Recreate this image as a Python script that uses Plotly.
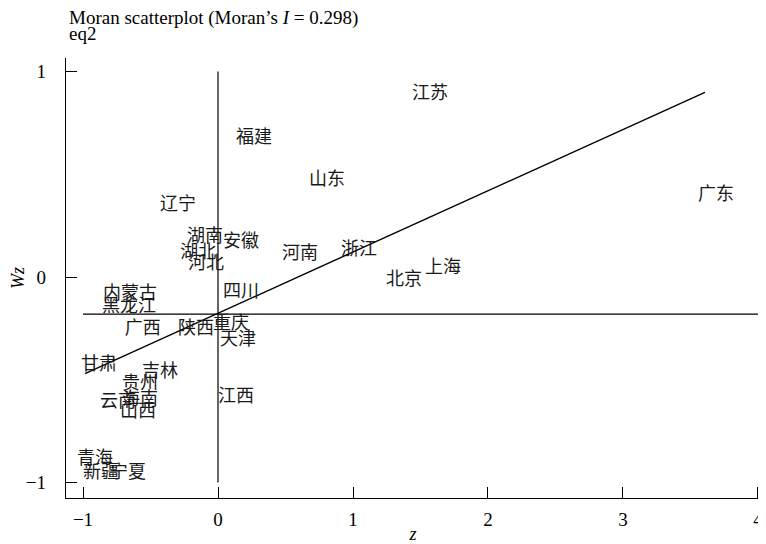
import plotly.graph_objects as go

# Provinces, standardized value z and spatial lag Wz
provinces = ["江苏", "福建", "山东", "广东", "河南", "浙江", "上海", "北京",
             "辽宁", "湖南", "安徽", "湖北", "河北", "四川", "内蒙古", "黑龙江",
             "广西", "陕西", "重庆", "天津", "甘肃", "吉林", "贵州", "江西",
             "云南", "海南", "山西", "青海", "新疆", "宁夏"]
z_vals = [1.437, 0.133, 0.674, 3.556, 0.474, 0.911, 1.533, 1.244,
          -0.430, -0.230, 0.037, -0.280, -0.222, 0.037, -0.852, -0.860,
          -0.690, -0.296, -0.037, 0.015, -1.015, -0.563, -0.711, 0.000,
          -0.874, -0.711, -0.726, -1.044, -1.000, -0.800]
wz_vals = [0.886, 0.676, 0.472, 0.399, 0.112, 0.127, 0.044, -0.015,
           0.350, 0.195, 0.170, 0.117, 0.063, -0.073, -0.083, -0.146,
           -0.253, -0.253, -0.229, -0.307, -0.428, -0.462, -0.521, -0.584,
           -0.608, -0.600, -0.657, -0.886, -0.954, -0.954]

moran_I = 0.298
fit_intercept = -0.176
fit_z_range = [-0.985, 3.607]
mean_wz = -0.18
ref_z_range = [-1, 4]
ref_wz_range = [-1, 1]

x_ticks = [-1, 0, 1, 2, 3, 4]
x_ticktext = ["−1", "0", "1", "2", "3", "4"]
y_ticks = [-1, 0, 1]
y_ticktext = ["−1", "0", "1"]

title_line1 = "Moran scatterplot (Moran’s <i>I</i> = 0.298)"
title_line2 = "eq2"

serif = "Liberation Serif"
cjk = "Noto Sans CJK SC"

# page has an 8px body margin; figure is sized to fill the rest of the window
W, H = 758, 536
ML, MR, MT, MB = 58, 6, 50, 46
PW, PH = W - ML - MR, H - MT - MB

fig = go.Figure()

# reference lines
fig.add_trace(go.Scatter(x=ref_z_range, y=[mean_wz, mean_wz], mode="lines",
                         line=dict(color="black", width=1.2), hoverinfo="skip",
                         showlegend=False))
fig.add_trace(go.Scatter(x=[0, 0], y=ref_wz_range, mode="lines",
                         line=dict(color="black", width=1.2), hoverinfo="skip",
                         showlegend=False))
# fitted line
fit_wz = [fit_intercept + moran_I * v for v in fit_z_range]
fig.add_trace(go.Scatter(x=fit_z_range, y=fit_wz, mode="lines",
                         line=dict(color="black", width=1.4), hoverinfo="skip",
                         showlegend=False))
# labels
fig.add_trace(go.Scatter(x=z_vals, y=wz_vals, mode="text", text=provinces,
                         textposition="middle right",
                         textfont=dict(family=cjk, size=18, color="#1a1a1a"),
                         showlegend=False))

fig.update_layout(
    width=W, height=H,
    margin=dict(l=ML, r=MR, t=MT, b=MB, autoexpand=False),
    paper_bgcolor="white", plot_bgcolor="white",
    font=dict(family=serif, size=19, color="black"),
    showlegend=False,
    annotations=[
        dict(text=title_line1, xref="paper", yref="paper",
             x=(60 - ML) / PW, y=1 + (MT - 10.5) / PH,
             xanchor="left", yanchor="middle", align="left", showarrow=False,
             borderpad=0,
             font=dict(family=serif, size=19, color="black")),
        dict(text=title_line2, xref="paper", yref="paper",
             x=(60 - ML) / PW, y=1 + (MT - 25.5) / PH,
             xanchor="left", yanchor="middle", align="left", showarrow=False,
             borderpad=0,
             font=dict(family=serif, size=19, color="black")),
    ],
)
fig.update_xaxes(range=[-1.126, 4.015], showline=True, linecolor="black",
                 linewidth=1.3, ticks="inside", ticklen=11, tickcolor="black",
                 tickwidth=1.2, tickvals=x_ticks, ticktext=x_ticktext,
                 showgrid=False, zeroline=False, automargin=False,
                 ticklabelstandoff=4,
                 title=dict(text="<i>z</i>", standoff=0,
                            font=dict(family=serif, size=18)))
fig.update_yaxes(range=[-1.075, 1.066], showline=True, linecolor="black",
                 linewidth=1.3, ticks="inside", ticklen=11, tickcolor="black",
                 tickwidth=1.2, tickvals=y_ticks, ticktext=y_ticktext,
                 showgrid=False, zeroline=False, automargin=False,
                 ticklabelstandoff=15,
                 title=dict(text="<i>Wz</i>", standoff=0,
                            font=dict(family=serif, size=18)))

fig.write_html("out.html")
